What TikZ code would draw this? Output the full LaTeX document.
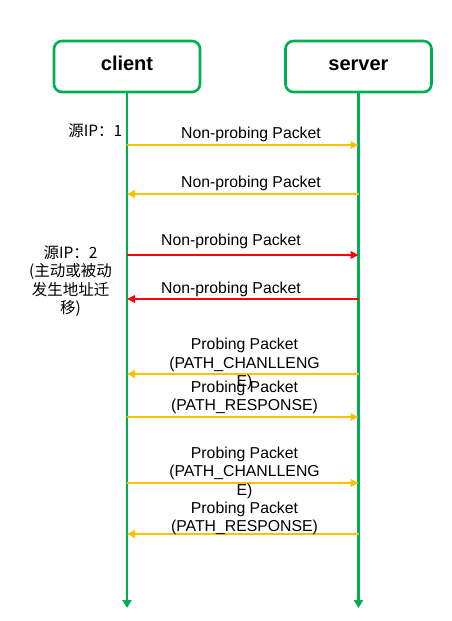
\documentclass[tikz,border=0pt]{standalone}
\usepackage{fontspec}
\setmainfont{Liberation Sans}
\newfontfamily\cjk{Noto Sans CJK SC}
\usetikzlibrary{arrows.meta}
\definecolor{lgreen}{HTML}{00B050}
\definecolor{pyellow}{HTML}{FFC000}
\definecolor{pred}{HTML}{FF0000}
\begin{document}
\begin{tikzpicture}[x=1pt,y=-1pt,
  actor/.style={draw=lgreen,line width=2.6pt,rounded corners=8pt,minimum width=146pt,minimum height=51pt,text height=14pt,text depth=7pt,font=\fontsize{20}{24}\selectfont\bfseries},
  life/.style={draw=lgreen,line width=2.8pt,-{Triangle[length=8pt,width=9pt]}},
  msgY/.style={draw=pyellow,line width=2.8pt,-{Triangle[length=8pt,width=7.5pt]}},
  msgR/.style={draw=pred,line width=2.8pt,-{Triangle[length=8pt,width=7.5pt]}},
  lbl/.style={font=\fontsize{15.8}{18.5}\selectfont,inner sep=0pt,align=center,anchor=base},
  cn/.style={font=\cjk\fontsize{15.5}{18.5}\selectfont,inner sep=0pt,align=center,anchor=base},
]
\useasboundingbox (0,0) rectangle (452,621);
\node[actor] (client) at (127,66.5) {client};
\node[actor] (server) at (358.5,66.5) {server};
\coordinate (cend) at (127,608);
\coordinate (send) at (358.5,608);
\draw[life] (client.south) -- (cend);
\draw[life] (server.south) -- (send);
\foreach \i/\y in {1/145,2/194,3/255,4/299,5/374,6/417,7/483,8/534}{
  \coordinate (c\i) at (127,\y);
  \coordinate (s\i) at (358.5,\y);
}
\draw[msgY] (c1) -- (s1);
\draw[msgY] (s2) -- (c2);
\draw[msgR] (c3) -- (s3);
\draw[msgR] (s4) -- (c4);
\draw[msgY] (s5) -- (c5);
\draw[msgY] (c6) -- (s6);
\draw[msgY] (c7) -- (s7);
\draw[msgY] (s8) -- (c8);
\node[lbl] (l1) at (251,138) {Non-probing Packet};
\node[lbl] (l2) at (251,187) {Non-probing Packet};
\node[lbl] (l3) at (231,245) {Non-probing Packet};
\node[lbl] (l4) at (231,293) {Non-probing Packet};
\node[lbl] (l5) at (244.5,386.5) {Probing Packet\\(PATH\_CHANLLENG\\E)};
\node[lbl] (l6) at (244.5,410.5) {Probing Packet\\(PATH\_RESPONSE)};
\node[lbl] (l7) at (244.5,495) {Probing Packet\\(PATH\_CHANLLENG\\E)};
\node[lbl] (l8) at (244.5,531.5) {Probing Packet\\(PATH\_RESPONSE)};
\node[cn,anchor=base east] (ip1) at (122.5,136) {源IP：1};
\node[cn] (ip2) at (70.5,313.5) {源IP：2\\(主动或被动\\发生地址迁\\移)};
\end{tikzpicture}
\end{document}
